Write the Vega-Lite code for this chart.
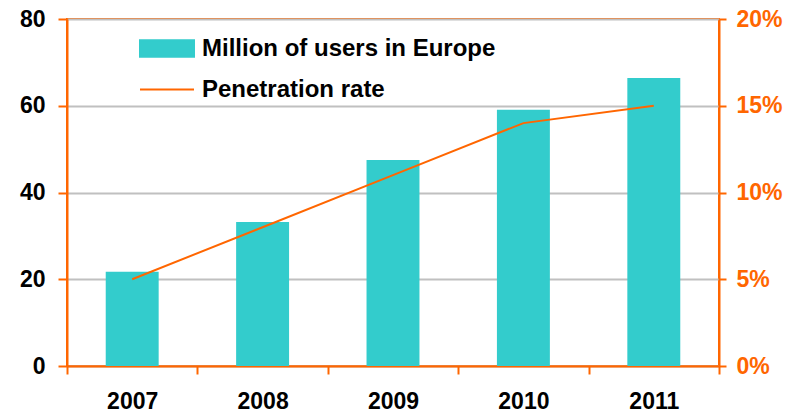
{
  "$schema": "https://vega.github.io/schema/vega-lite/v6.json",
  "autosize": "none",
  "width": 652,
  "height": 347,
  "padding": {"left": 67, "top": 19, "right": 72, "bottom": 48},
  "background": "white",
  "config": {
    "view": {"stroke": "#FF6600", "strokeWidth": 2},
    "font": "Liberation Sans"
  },
  "data": {
    "values": [
      {"year": "2007", "users": 21.75, "rate": 0.05},
      {"year": "2008", "users": 33.2, "rate": 0.08},
      {"year": "2009", "users": 47.5, "rate": 0.11},
      {"year": "2010", "users": 59.05, "rate": 0.14},
      {"year": "2011", "users": 66.4, "rate": 0.15}
    ]
  },
  "encoding": {
    "x": {
      "field": "year",
      "type": "nominal",
      "scale": {"paddingInner": 0, "paddingOuter": 0},
      "axis": {
        "title": null,
        "labelAngle": 0,
        "labelFont": "Liberation Sans",
        "labelFontSize": 23,
        "labelFontWeight": "bold",
        "labelColor": "black",
        "labelPadding": 16,
        "tickBand": "extent",
        "tickSize": 8,
        "tickWidth": 2,
        "tickColor": "#FF6600",
        "domainColor": "#FF6600",
        "domainWidth": 2
      }
    }
  },
  "layer": [
    {
      "mark": {"type": "bar", "color": "#33CCCC", "width": {"band": 0.406}},
      "encoding": {
        "y": {
          "field": "users",
          "type": "quantitative",
          "scale": {"domain": [0, 80], "nice": false},
          "axis": {
            "title": null,
            "values": [0, 20, 40, 60, 80],
            "labelFont": "Liberation Sans",
            "labelFontSize": 23,
            "labelFontWeight": "bold",
            "labelColor": "black",
            "labelPadding": 13,
            "tickSize": 9,
            "tickWidth": 2,
            "tickColor": "#FF6600",
            "domainColor": "#FF6600",
            "domainWidth": 2,
            "grid": true,
            "gridColor": "#C0C0C0",
            "gridWidth": 2
          }
        },
        "color": {
          "datum": "Million of users in Europe",
          "type": "nominal",
          "scale": {
            "domain": ["Million of users in Europe", "Penetration rate"],
            "range": ["#33CCCC", "#FF6600"]
          },
          "legend": {
            "title": null,
            "orient": "none",
            "legendX": 72,
            "legendY": 1.5,
            "padding": 0,
            "labelFont": "Liberation Sans",
            "labelFontSize": 24,
            "labelFontWeight": "bold",
            "labelColor": "black",
            "labelOffset": 7,
            "rowPadding": -19.5,
            "symbolSize": 2916,
            "labelLimit": 500,
            "encode": {
              "symbols": {
                "update": {
                  "shape": {"signal": "datum.value === 'Penetration rate' ? 'M-1,0H1' : 'M-1,-0.31H1V0.31H-1Z'"},
                  "fill": {"signal": "datum.value === 'Penetration rate' ? 'transparent' : '#33CCCC'"},
                  "stroke": {"signal": "datum.value === 'Penetration rate' ? '#FF6600' : 'transparent'"},
                  "strokeWidth": {"value": 2},
                  "opacity": {"value": 1}
                }
              }
            }
          }
        }
      }
    },
    {
      "mark": {"type": "line", "strokeWidth": 2},
      "encoding": {
        "y": {
          "field": "rate",
          "type": "quantitative",
          "scale": {"domain": [0, 0.2], "nice": false},
          "axis": {
            "orient": "right",
            "title": null,
            "values": [0, 0.05, 0.1, 0.15, 0.2],
            "format": ".0%",
            "labelFont": "Liberation Sans",
            "labelFontSize": 23,
            "labelFontWeight": "bold",
            "labelColor": "#FF6600",
            "labelPadding": 10,
            "tickSize": 7,
            "tickWidth": 2,
            "tickColor": "#FF6600",
            "domainColor": "#FF6600",
            "domainWidth": 2,
            "grid": false
          }
        },
        "color": {"datum": "Penetration rate", "type": "nominal"}
      }
    }
  ],
  "resolve": {"scale": {"y": "independent"}}
}
